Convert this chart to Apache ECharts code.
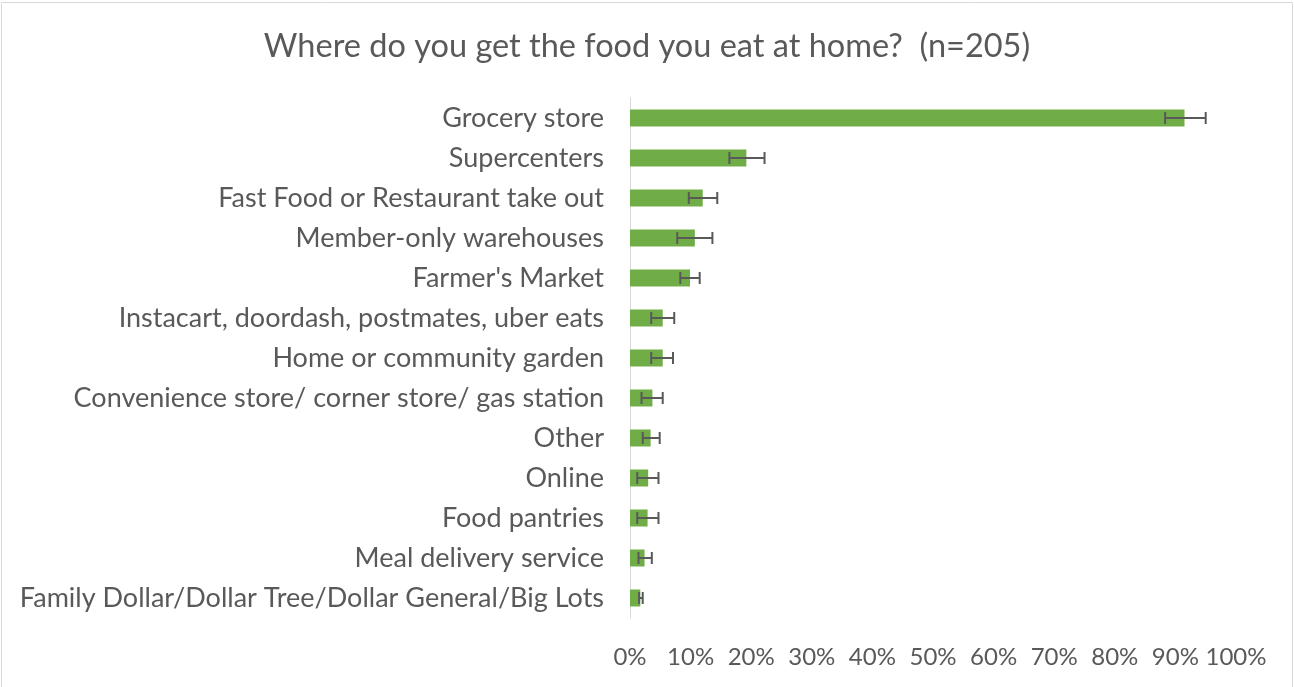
<!DOCTYPE html>
<html>
<head>
<meta charset="utf-8">
<script src="https://cdn.jsdelivr.net/npm/echarts@6/dist/echarts.min.js"></script>
<style>
  html, body { margin: 0; padding: 0; background: #fff; }
  #chart { width: 1294px; height: 687px; }
</style>
</head>
<body>
<div id="chart"></div>
<script>
  // categories top to bottom
  const categories = [
    'Grocery store',
    'Supercenters',
    'Fast Food or Restaurant take out',
    'Member-only warehouses',
    "Farmer's Market",
    'Instacart, doordash, postmates, uber eats',
    'Home or community garden',
    'Convenience store/ corner store/ gas station',
    'Other',
    'Online',
    'Food pantries',
    'Meal delivery service',
    'Family Dollar/Dollar Tree/Dollar General/Big Lots'
  ];
  // share of respondents (%)
  const shares = [91.5, 19.2, 12.0, 10.7, 9.9, 5.4, 5.4, 3.7, 3.4, 3.0, 2.9, 2.4, 1.7];
  // error bar ends (%)
  const errLow = [88.3, 16.4, 9.7, 7.8, 8.3, 3.5, 3.5, 1.9, 2.1, 1.2, 1.2, 1.4, 1.5];
  const errHigh = [95.0, 22.2, 14.4, 13.6, 11.5, 7.3, 7.1, 5.4, 4.9, 4.7, 4.7, 3.6, 2.1];

  const textColor = '#595959';
  const font = 'Lato, "Liberation Sans", sans-serif';

  const errData = categories.map((c, i) => [i, errLow[i], errHigh[i]]);

  const chart = echarts.init(document.getElementById('chart'));

  const option = {
    animation: false,
    backgroundColor: '#fff',
    textStyle: { fontFamily: font },
    title: {
      text: 'Where do you get the food you eat at home?  (n=205)',
      left: 'center',
      top: 25,
      textStyle: { color: textColor, fontSize: 32.5, fontWeight: 'normal', fontFamily: font }
    },
    graphic: [{
      type: 'rect',
      shape: { x: 1.5, y: 2.5, width: 1291, height: 700 },
      style: { fill: 'none', stroke: '#d9d9d9', lineWidth: 1 },
      silent: true
    }],
    grid: { left: 630, right: 58, top: 98, bottom: 69 },
    xAxis: {
      type: 'value',
      min: 0,
      max: 100,
      interval: 10,
      axisLine: { show: false },
      axisTick: { show: false },
      splitLine: { show: false },
      axisLabel: {
        formatter: '{value}%',
        color: textColor,
        fontSize: 24,
        fontFamily: font,
        margin: 27
      }
    },
    yAxis: {
      type: 'category',
      data: categories,
      inverse: true,
      axisLine: { lineStyle: { color: '#d9d9d9', width: 1 } },
      axisTick: { show: false },
      axisLabel: {
        color: textColor,
        fontSize: 27,
        fontFamily: font,
        margin: 26
      }
    },
    series: [
      {
        name: 'Share',
        type: 'bar',
        data: shares,
        barWidth: 17,
        itemStyle: { color: '#70ad47' },
        z: 2
      },
      {
        name: 'Error',
        type: 'custom',
        data: errData,
        encode: { y: 0, x: [1, 2] },
        z: 3,
        renderItem: function (params, api) {
          const idx = api.value(0);
          const lo = api.coord([api.value(1), idx]);
          const hi = api.coord([api.value(2), idx]);
          const h = 6;
          const style = { stroke: textColor, lineWidth: 2, fill: null };
          return {
            type: 'group',
            children: [
              { type: 'line', shape: { x1: lo[0], y1: lo[1], x2: hi[0], y2: hi[1] }, style: style },
              { type: 'line', shape: { x1: lo[0], y1: lo[1] - h, x2: lo[0], y2: lo[1] + h }, style: style },
              { type: 'line', shape: { x1: hi[0], y1: hi[1] - h, x2: hi[0], y2: hi[1] + h }, style: style }
            ]
          };
        }
      }
    ]
  };

  chart.setOption(option);
  window.addEventListener('resize', function () {
    chart.resize();
  });
</script>
</body>
</html>
